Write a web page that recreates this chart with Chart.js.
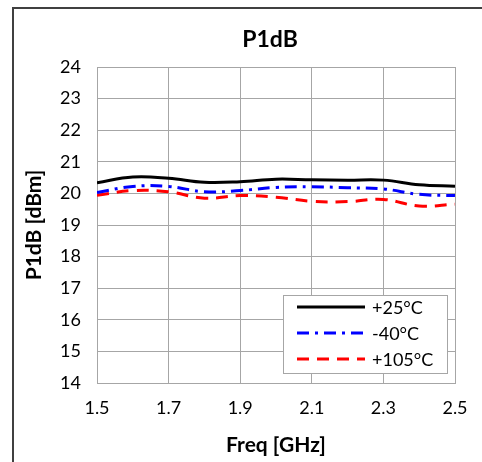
<!DOCTYPE html>
<html>
<head>
<meta charset="utf-8">
<script src="https://cdn.jsdelivr.net/npm/chart.js@4/dist/chart.umd.min.js"></script>
<style>
  html, body { margin: 0; padding: 0; background: #fff; }
  #wrap { width: 482px; height: 462px; }
</style>
</head>
<body>
<div id="wrap"><canvas id="c" width="482" height="462"></canvas></div>
<script>
// Freq [GHz] and P1dB [dBm]
const freq    = [1.5, 1.6, 1.7, 1.8, 1.9, 2.0, 2.1, 2.2, 2.3, 2.4, 2.5];
const p25     = [20.34, 20.52, 20.48, 20.35, 20.37, 20.45, 20.43, 20.42, 20.42, 20.27, 20.23];
const pm40    = [20.03, 20.22, 20.22, 20.05, 20.09, 20.19, 20.21, 20.18, 20.14, 19.97, 19.93];
const p105    = [19.94, 20.09, 20.05, 19.85, 19.93, 19.88, 19.75, 19.74, 19.81, 19.60, 19.66];
const xTicks  = [1.5, 1.7, 1.9, 2.1, 2.3, 2.5];
const chartTitle = 'P1dB';
const FONT = "Lato, 'Open Sans', sans-serif";

function pts(ys) {
    return freq.map(function(x, i) { return { x: x, y: ys[i] }; });
}

// outer frame of the sheet (only left and top edges are visible) + title
const framePlugin = {
    id: 'frame',
    beforeDraw: function(chart) {
        var ctx = chart.ctx;
        var a = chart.chartArea;
        ctx.save();
        ctx.strokeStyle = '#404040';
        ctx.lineWidth = 2;
        ctx.beginPath();
        ctx.moveTo(13, 470);
        ctx.lineTo(13, 8);
        ctx.lineTo(490, 8);
        ctx.stroke();
        ctx.fillStyle = '#000';
        ctx.font = 'bold 23px ' + FONT;
        ctx.textAlign = 'center';
        ctx.textBaseline = 'middle';
        ctx.fillText(chartTitle, (a.left + a.right) / 2 - 6, 40);
        ctx.restore();
    }
};

// legend box inside the plot area
const boxLegend = {
    id: 'boxLegend',
    afterDraw: function(chart) {
        var ctx = chart.ctx;
        var x0 = 283, y0 = 295, w = 164, h = 78;
        ctx.save();
        ctx.fillStyle = '#fff';
        ctx.fillRect(x0, y0, w, h);
        ctx.strokeStyle = '#a6a6a6';
        ctx.lineWidth = 1;
        ctx.strokeRect(x0 + 0.5, y0 + 0.5, w, h);
        chart.data.datasets.forEach(function(ds, i) {
            var yy = y0 + 12 + i * 26;
            ctx.strokeStyle = ds.borderColor;
            ctx.lineWidth = ds.borderWidth;
            ctx.setLineDash(ds.borderDash || []);
            ctx.beginPath();
            ctx.moveTo(297, yy);
            ctx.lineTo(365, yy);
            ctx.stroke();
            ctx.setLineDash([]);
            ctx.fillStyle = '#000';
            ctx.font = '18px ' + FONT;
            ctx.textBaseline = 'middle';
            ctx.fillText(ds.label, 372, yy + 1);
        });
        ctx.restore();
    }
};

new Chart(document.getElementById('c'), {
    type: 'line',
    data: {
        datasets: [
            { label: '+25°C',  data: pts(p25),  borderColor: '#000000', borderWidth: 3 },
            { label: '-40°C',  data: pts(pm40), borderColor: '#0000ff', borderWidth: 3, borderDash: [12, 6, 3, 6] },
            { label: '+105°C', data: pts(p105), borderColor: '#ff0000', borderWidth: 3, borderDash: [12, 8] }
        ]
    },
    options: {
        responsive: false,
        animation: false,
        layout: { padding: { left: 0, right: 27, top: 67, bottom: 0 } },
        elements: { point: { radius: 0 }, line: { tension: 0.4, fill: false } },
        plugins: {
            legend: { display: false },
            tooltip: { enabled: false },
            title: { display: false }
        },
        scales: {
            x: {
                type: 'linear',
                min: 1.5,
                max: 2.5,
                afterBuildTicks: function(scale) {
                    scale.ticks = xTicks.map(function(v) { return { value: v }; });
                },
                afterFit: function(scale) { scale.height = 79; },
                ticks: {
                    color: '#000',
                    font: { family: FONT, size: 18 },
                    padding: 14,
                    callback: function(v) { return v.toFixed(1); }
                },
                grid: { color: '#a6a6a6', lineWidth: 1, drawTicks: false },
                border: { color: '#a6a6a6' },
                title: {
                    display: true,
                    text: 'Freq [GHz]',
                    color: '#000',
                    font: { family: FONT, size: 21, weight: 'bold' },
                    padding: { top: 8 }
                }
            },
            y: {
                min: 14,
                max: 24,
                afterFit: function(scale) { scale.width = 97; },
                ticks: {
                    stepSize: 1,
                    color: '#000',
                    font: { family: FONT, size: 18 },
                    padding: 16
                },
                grid: { color: '#a6a6a6', lineWidth: 1, drawTicks: false },
                border: { color: '#a6a6a6' },
                title: {
                    display: true,
                    text: 'P1dB [dBm]',
                    color: '#000',
                    font: { family: FONT, size: 21, weight: 'bold' },
                    padding: { top: 22, bottom: 0 }
                }
            }
        }
    },
    plugins: [framePlugin, boxLegend]
});
</script>
</body>
</html>
